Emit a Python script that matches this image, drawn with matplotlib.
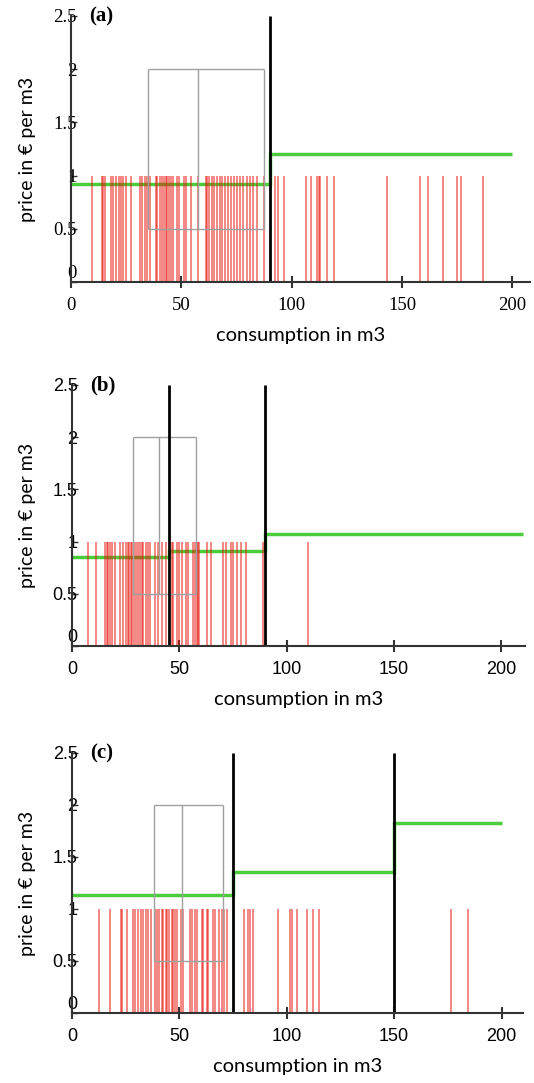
#libraries
import matplotlib.pyplot as plt

#consumption values (m3) of the households, one red line each
cons_a = [9.4, 13.9, 14.7, 15.4, 18.1, 19.2, 20.4, 21.9, 22.7, 23.7, 24.8, 27.2, 31.3, 32.2,
          33.6, 34.6, 35.8, 38.4, 39.1, 40.4, 41.1, 42.2, 43.1, 43.7, 44.4, 45.2, 46.4, 47.9,
          48.9, 51.4, 52.2, 54.4, 57.7, 61.1, 61.7, 62.7, 63.8, 64.9, 66.1, 67.3, 68.3, 69.8,
          71.3, 72.4, 73.9, 75.4, 76.6, 77.8, 79.7, 80.9, 82.7, 84.5, 87.5, 92.5, 94, 96.3,
          106.4, 108.7, 111.4, 112.2, 112.9, 116.2, 119, 143.4, 158.3, 161.8, 168.6, 174.9,
          176.7, 186.5]
cons_b = [7.3, 11.2, 15.4, 16.2, 16.9, 17.7, 18.5, 20, 22.4, 23.6, 25.2, 25.9, 26.5, 27.3,
          28.1, 28.9, 29.8, 30.9, 31.7, 32.5, 33.2, 34.5, 35.5, 36.3, 38.7, 40.2, 41.8, 43.8,
          46.4, 47.2, 48.8, 50, 51.1, 53.1, 54.2, 56.5, 57.3, 58.1, 58.8, 59.3, 62.7, 64.7,
          70.5, 71.7, 73.9, 75.1, 76.7, 78.6, 81, 89.1, 110]
cons_c = [12.6, 17.7, 22.8, 23.4, 25.5, 28.5, 29.3, 30.9, 32, 32.9, 34.5, 35.5, 36.6, 38.6,
          39.4, 40.6, 41.8, 42.5, 43.8, 44.4, 45.3, 46.4, 47.2, 47.9, 48.7, 50.6, 51.5, 54.9,
          55.7, 57.3, 58, 60.4, 61.1, 62.7, 63.5, 65.5, 66.6, 68.6, 69.7, 70.8, 72, 80.2,
          82.1, 82.9, 84.1, 96, 101.5, 102.3, 104.6, 109.3, 112.4, 115.1, 176.3, 184.5]

#tariff blocks: block limits and price per block
edges_a = [0, 90, 200]
price_a = [0.92, 1.2]
edges_b = [0, 45, 90, 210]
price_b = [0.857, 0.914, 1.074]
edges_c = [0, 75, 150, 200]
price_c = [1.135, 1.355, 1.825]

#box: quartile, median, quartile of consumption
box_a = [34.9, 57.6, 87.5]
box_b = [28.6, 40.5, 57.6]
box_c = [38.2, 51.1, 70.4]

panel_names = ["(a)", "(b)", "(c)"]
x_max = [208, 211, 210]
y_ticks = [0, 0.5, 1, 1.5, 2, 2.5]
y_tick_labels = ["0", "0.5", "1", "1.5", "2", "2.5"]
x_ticks = [0, 50, 100, 150, 200]

fig = plt.figure(figsize=(5.34, 10.83), dpi=100)
#axes boxes in pixels: left, axis y, top y, right
boxes = [(71, 282, 16, 530), (72, 646, 385, 525), (72, 1013, 753, 523)]

panels = [(cons_a, edges_a, price_a, box_a), (cons_b, edges_b, price_b, box_b),
          (cons_c, edges_c, price_c, box_c)]

for i in range(3):
    cons, edges, prices, box = panels[i]
    left, bot, top, right = boxes[i]
    ax = fig.add_axes([left / 534, 1 - bot / 1083, (right - left) / 534, (bot - top) / 1083])

    #households
    ax.vlines(cons, 0, 1, color="#e8160c", alpha=0.65, linewidth=1.1)

    #box of the consumption
    ax.vlines(box, 0.5, 2, color="#a0a0a0", linewidth=1)
    ax.hlines([0.5, 2], box[0], box[2], color="#a0a0a0", linewidth=1)

    #block limits
    ax.vlines(edges[1:-1], 0, 2.5, color="black", linewidth=2)

    #price steps
    ax.stairs(prices, edges, color="#4ccc3c", linewidth=2.5, baseline=None)

    ax.set_xlim(0, x_max[i])
    ax.set_ylim(0, 2.5)
    for s in ["top", "right"]:
        ax.spines[s].set_visible(False)
    for s in ["left", "bottom"]:
        ax.spines[s].set_color("#333333")
        ax.spines[s].set_linewidth(1.5)

    if i == 0:
        tfont = "Liberation Serif"
        tsize = 13.5
    else:
        tfont = "Liberation Sans"
        tsize = 13

    ax.set_xticks(x_ticks)
    ax.set_xticklabels([str(t) for t in x_ticks], family=tfont, fontsize=tsize)
    ax.tick_params(axis="x", direction="inout", length=9, width=1.5, color="#333333", pad=6)

    ax.set_yticks(y_ticks)
    ax.set_yticklabels(y_tick_labels, family=tfont, fontsize=tsize)
    ax.tick_params(axis="y", direction="in", length=4, width=1, color="#333333", pad=-4)
    ax.get_yticklabels()[0].set_va("bottom")

    ax.set_xlabel("consumption in m3", family="Lato", fontsize=14.5, labelpad=10)
    ax.set_ylabel("price in \u20ac per m3", family="Lato", fontsize=14, labelpad=12)
    ax.text(0.04, 1.0, panel_names[i], transform=ax.transAxes, family="Liberation Serif",
            fontweight="bold", fontsize=15, va="center")

plt.savefig("out.png", dpi=100)
